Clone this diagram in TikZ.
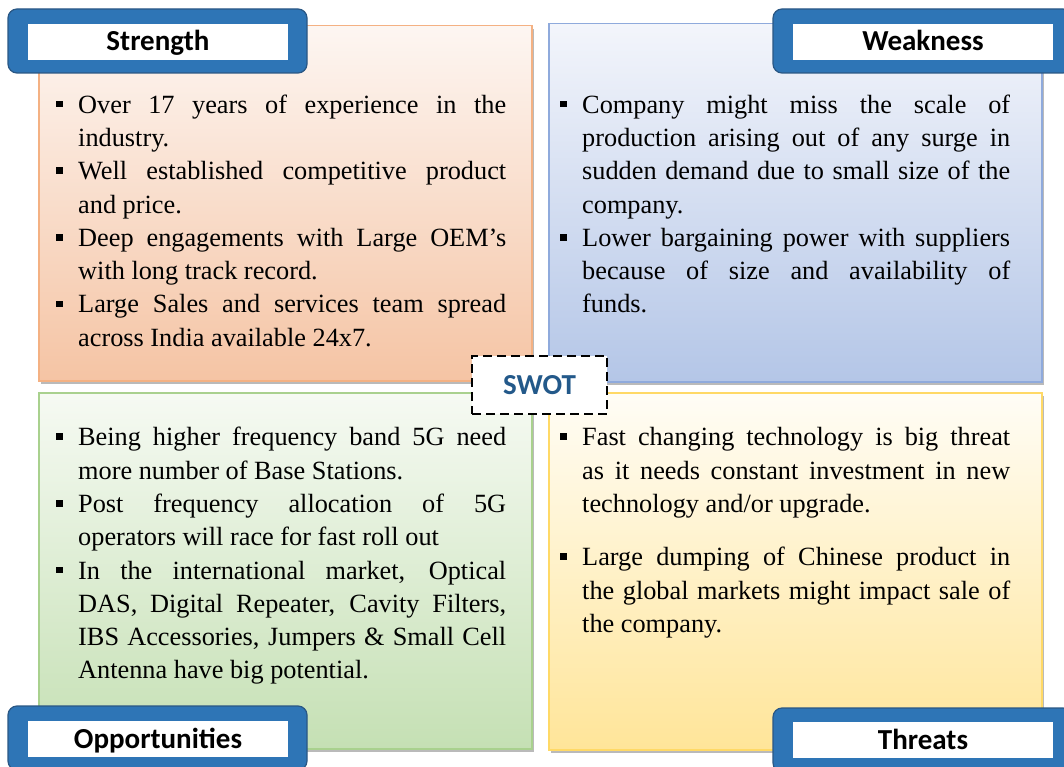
\documentclass[tikz,border=0pt]{standalone}
\usepackage{fontspec}
\setmainfont{Liberation Serif}
\newfontfamily\tabfont{Carlito}
\usetikzlibrary{positioning, shadows}
\definecolor{tabblue}{HTML}{2E75B6}
\definecolor{tabedge}{HTML}{2A5784}
\definecolor{swotblue}{HTML}{23598A}
\definecolor{sTop}{HTML}{FDF6F2}\definecolor{sBot}{HTML}{F5C4A4}\definecolor{sEdge}{HTML}{F4B183}
\definecolor{wTop}{HTML}{F3F5FB}\definecolor{wBot}{HTML}{B4C6E7}\definecolor{wEdge}{HTML}{8FAADC}
\definecolor{oTop}{HTML}{F6FAF3}\definecolor{oBot}{HTML}{C5E0B4}\definecolor{oEdge}{HTML}{A9D18E}
\definecolor{tTop}{HTML}{FFFDF6}\definecolor{tBot}{HTML}{FFE599}\definecolor{tEdge}{HTML}{FFD966}
\newcommand{\sqbullet}{\rule[0.22em]{0.25em}{0.25em}}
\newcommand{\swotitem}[1]{\par\noindent\hangindent=22pt\hangafter=1\makebox[22pt][l]{\sqbullet}\strut#1\par}

\begin{document}
\begin{tikzpicture}[
    % GLOBAL CFG
    x=1pt, y=-1pt,
    % Styles
    quad/.style={% For the four coloured boxes
        rectangle,
        anchor=north west,
        line width=1.5pt,
        drop shadow={shadow xshift=2.5pt, shadow yshift=-3pt, fill=black!45, opacity=0.6},
    },
    tab/.style={% For the blue title tabs
        rectangle,
        rounded corners=9pt,
        draw=tabedge,
        line width=1.2pt,
        fill=tabblue,
        minimum width=299pt,
        minimum height=64pt,
    },
    tabtext/.style={% For the white part of the tabs
        rectangle,
        fill=white,
        inner sep=0pt,
        minimum width=260pt,
        text height=27pt,
        text depth=9pt,
        font=\tabfont\bfseries\fontsize{29}{30}\selectfont,
    },
    swotbox/.style={% For the dashed centre box
        rectangle,
        draw=black,
        dash pattern=on 9pt off 5pt,
        line width=2.5pt,
        fill=white,
        minimum width=135pt,
        minimum height=58pt,
        text=swotblue,
        font=\tabfont\bfseries\fontsize{29}{30}\selectfont,
    },
    itemtext/.style={% For the bullet lists
        anchor=north west,
        inner sep=0pt,
        text width=450pt,
        align=justify,
        font=\fontsize{26.3}{33.3}\selectfont,
    },
    ]

    \useasboundingbox (0,0) rectangle (1064,767);
    \clip (0,0) rectangle (1064,767);

    % Draw quadrants
    \node [quad, draw=sEdge, top color=sTop, bottom color=sBot, minimum width=493pt, minimum height=355pt] (quadS) at (38,25) {};
    \node [quad, draw=wEdge, top color=wTop, bottom color=wBot, minimum width=493pt, minimum height=358pt] (quadW) at (548,23) {};
    \node [quad, draw=oEdge, top color=oTop, bottom color=oBot, minimum width=493pt, minimum height=356pt] (quadO) at (38,392) {};
    \node [quad, draw=tEdge, top color=tTop, bottom color=tBot, minimum width=493pt, minimum height=357pt] (quadT) at (548,392) {};

    % Draw lists
    \node [itemtext] (txtS) at (56,79.7) {%
        \swotitem{Over 17 years of experience in the\linebreak industry.}%
        \swotitem{Well established competitive product\linebreak and price.}%
        \swotitem{Deep engagements with Large OEM’s\linebreak with long track record.}%
        \swotitem{Large Sales and services team spread\linebreak across India available 24x7.}};
    \node [itemtext] (txtW) at (560,79.7) {%
        \swotitem{Company might miss the scale of\linebreak production arising out of any surge in\linebreak sudden demand due to small size of the\linebreak company.}%
        \swotitem{Lower bargaining power with suppliers\linebreak because of size and availability of\linebreak funds.}};
    \node [itemtext] (txtO) at (56,412.3) {%
        \swotitem{Being higher frequency band 5G need\linebreak more number of Base Stations.}%
        \swotitem{Post frequency allocation of 5G\linebreak operators will race for fast roll out}%
        \swotitem{In the international market, Optical\linebreak DAS, Digital Repeater, Cavity Filters,\linebreak IBS Accessories, Jumpers \& Small Cell\linebreak Antenna have big potential.}};
    \node [itemtext] (txtT) at (560,412.3) {%
        \swotitem{Fast changing technology is big threat\linebreak as it needs constant investment in new\linebreak technology and/or upgrade.}%
        \vspace{20pt}%
        \swotitem{Large dumping of Chinese product in\linebreak the global markets might impact sale of\linebreak the company.}};

    % Draw tabs named tab# and their labels lab#
    \node [tab] (tabS) at (157.5,41) {};
    \node [tabtext] (labS) at (158,42) {Strength};
    \node [tab] (tabW) at (922.5,41) {};
    \node [tabtext] (labW) at (923,42) {Weakness};
    \node [tab] (tabO) at (157.5,738) {};
    \node [tabtext] (labO) at (158,739) {Opportunities};
    \node [tab] (tabT) at (922.5,740) {};
    \node [tabtext] (labT) at (923,740) {Threats};

    % Centre
    \node [swotbox] (swot) at (539.5,385) {SWOT};

\end{tikzpicture}
\end{document}
